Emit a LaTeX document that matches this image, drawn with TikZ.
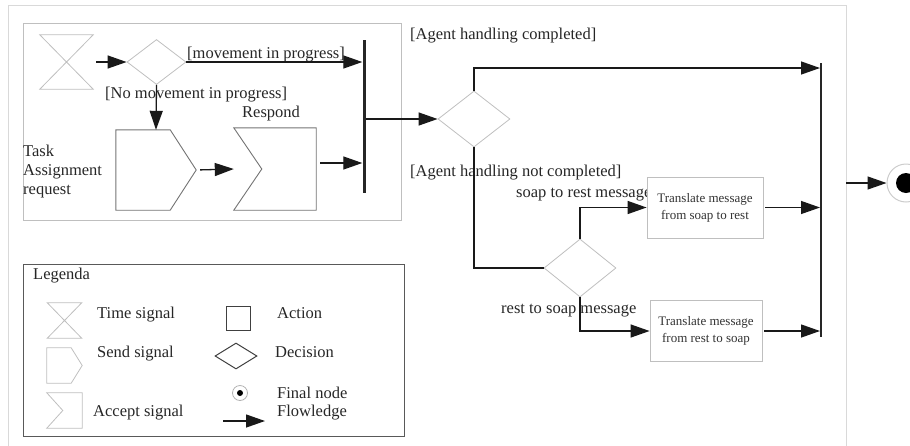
\documentclass[tikz,border=0pt]{standalone}
\usepackage{fontspec}
\setmainfont{Liberation Serif}
\usetikzlibrary{arrows.meta,shapes.geometric,calc}
\begin{document}
\begin{tikzpicture}[x=1pt,y=-1pt,
  font=\fontsize{16.5}{19}\selectfont,
  flow/.style={draw=black!90,line width=1.3pt,-{Triangle[length=19pt,width=13pt]}},
  plain/.style={draw=black!90,line width=1.3pt},
  lightshape/.style={draw=black!25,line width=0.8pt},
  midshape/.style={draw=black!55,line width=0.9pt},
  darkshape/.style={draw=black!75,line width=1pt},
  holder/.style={draw=none,inner sep=0pt,rectangle},
  dec/.style={diamond,inner sep=0pt},
  lbl/.style={inner sep=0pt,text=black!85},
  bar/.style={fill=black!85,inner sep=0pt,minimum width=3pt},
  actbox/.style={rectangle,draw=black!25,line width=0.8pt,fill=white,inner sep=0pt,align=center,font=\fontsize{13}{17}\selectfont,text=black!80},
]
\useasboundingbox (0,0) rectangle (910,445);
% outer frame
\draw[draw=black!15,line width=1pt] (8,460) -- (8,5) -- (846,5) -- (846,460);

% group box
\node[holder,draw=black!25,line width=0.8pt,minimum width=378pt,minimum height=197pt] (grp) at (212,121.5) {};

% time signal
\node[holder,minimum width=53pt,minimum height=54pt] (ts) at (66.5,62) {};
\draw[lightshape] (ts.north west) -- (ts.north east) -- (ts.south west) -- (ts.south east) -- cycle;

% decision 1
\node[dec,lightshape,minimum width=59pt,minimum height=45pt] (d1) at (156.5,62) {};

% bar 1
\node[bar,minimum height=153pt] (bar1) at (364,116.5) {};

% send signal
\node[holder,minimum width=80pt,minimum height=80pt] (ss) at (156,170) {};
\draw[midshape] (ss.north west) -- ($(ss.north east)+(-26,0)$) -- (ss.east) -- ($(ss.south east)+(-26,0)$) -- (ss.south west) -- cycle;

% accept signal
\node[holder,minimum width=82pt,minimum height=82pt] (as) at (275,169) {};
\draw[midshape] (as.north west) -- (as.north east) -- (as.south east) -- (as.south west) -- ($(as.west)+(28,0)$) -- cycle;

% labels group
\node[lbl,anchor=base west] (lmov) at (187,58) {[movement in progress]};
\node[lbl,anchor=base west] (lnomov) at (105,98) {[No movement in progress]};
\node[lbl,anchor=base west] (lresp) at (242,117) {Respond};
\node[lbl,anchor=north west,align=left] (ltask) at (23,145) {Task\\Assignment\\request};

% flows group
\draw[flow,shorten <=3pt] (ts.east) -- (d1.west);
\draw[flow] (d1.east) -- (d1.east -| bar1.west);
\draw[flow] (d1.south) -- (ss.north);
\draw[flow,shorten <=4pt] (ss.east) -- (as.west);
\draw[flow] ([xshift=4pt,yshift=6pt]as.east) -- ([yshift=6pt]as.east -| bar1.west);

% decision 2
\node[dec,lightshape,minimum width=72pt,minimum height=56pt] (d2) at (474,119) {};
\draw[flow] (bar1.east |- d2.west) -- (d2.west);

% bar 2
\node[bar,line width=0pt,minimum width=2pt,minimum height=274pt] (bar2) at (821,200) {};

\node[lbl,anchor=base west] (lcomp) at (410,39) {[Agent handling completed]};
\node[lbl,anchor=base west] (lnotcomp) at (410,176) {[Agent handling not completed]};
\node[lbl,anchor=base west] (lsr) at (516,197) {soap to rest message};
\node[lbl,anchor=base west] (lrs) at (501,313) {rest to soap message};

% decision 3
\node[dec,lightshape,fill=white,minimum width=72pt,minimum height=58pt] (d3) at (580,268) {};

% action boxes
\node[actbox,minimum width=116pt,minimum height=61pt] (b1) at (705,207.5) {Translate message\\from soap to rest};
\node[actbox,minimum width=112pt,minimum height=61pt] (b2) at (706,331) {Translate message\\from rest to soap};

\draw[flow] (d2.north) |- ([yshift=-5pt]bar2.north west);
\draw[plain] (d2.south) |- (d3.west);
\draw[flow] (d3.north) |- (b1.west);
\draw[flow] (d3.south) |- (b2.west);
\draw[flow,shorten <=2pt] (b1.east) -- (b1.east -| bar2.west);
\draw[flow,shorten <=2pt] (b2.east) -- (b2.east -| bar2.west);

% final node
\node[circle,draw=black!20,line width=1pt,minimum size=38pt,inner sep=0pt] (fin) at (906,183) {};
\node[circle,fill=black,minimum size=20pt,inner sep=0pt] (findot) at (fin.center) {};
\coordinate (exit) at (846,183);
\draw[flow] (exit) -- (fin.west);

% legend
\node[holder,draw=black!65,line width=1pt,minimum width=381pt,minimum height=172pt] (leg) at (213.5,350) {};
\node[lbl,anchor=base west] (legt) at (33,279) {Legenda};

\node[holder,minimum width=34pt,minimum height=35pt] (lts) at (64.5,320.5) {};
\draw[lightshape] (lts.north west) -- (lts.north east) -- (lts.south west) -- (lts.south east) -- cycle;
\node[lbl,anchor=base west] at (97,318) {Time signal};

\node[holder,minimum width=35pt,minimum height=35pt] (lss) at (64.5,365.5) {};
\draw[lightshape] (lss.north west) -- ($(lss.north east)+(-11,0)$) -- (lss.east) -- ($(lss.south east)+(-11,0)$) -- (lss.south west) -- cycle;
\node[lbl,anchor=base west] at (97,357) {Send signal};

\node[holder,minimum width=35pt,minimum height=35pt] (las) at (64.5,410.5) {};
\draw[lightshape] (las.north west) -- (las.north east) -- (las.south east) -- (las.south west) -- ($(las.west)+(16,0)$) -- cycle;
\node[lbl,anchor=base west] at (93,416) {Accept signal};

\node[rectangle,darkshape,minimum size=24pt,inner sep=0pt] (lact) at (238,318) {};
\node[lbl,anchor=base west] at (277,318) {Action};

\node[dec,darkshape,minimum width=42pt,minimum height=26pt] (ldec) at (236,356) {};
\node[lbl,anchor=base west] at (275,357) {Decision};

\node[circle,draw=black!30,line width=0.8pt,minimum size=15pt,inner sep=0pt] (lfin) at (240,393) {};
\node[circle,fill=black,minimum size=6pt,inner sep=0pt] (lfindot) at (lfin.center) {};
\node[lbl,anchor=base west] at (277,398) {Final node};
\node[lbl,anchor=base west] at (277,416) {Flowledge};

\coordinate (la1) at (223,421);
\coordinate (la2) at (265,421);
\draw[flow] (la1) -- (la2);
\end{tikzpicture}
\end{document}
